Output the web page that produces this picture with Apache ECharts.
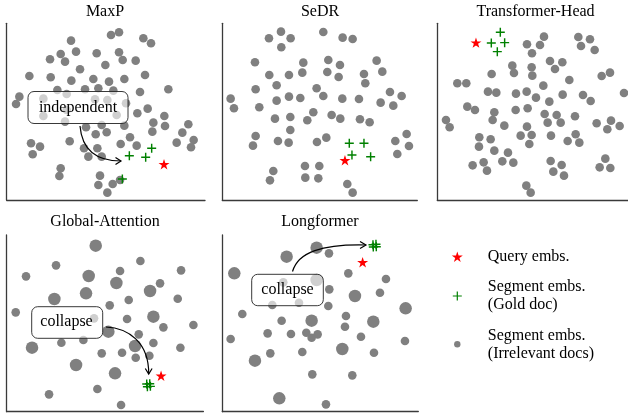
<!DOCTYPE html>
<html>
<head>
<meta charset="utf-8">
<script src="https://cdn.jsdelivr.net/npm/echarts@6/dist/echarts.min.js"></script>
<style>
html,body{margin:0;padding:0;background:#fff;}
#chart{width:628px;height:413px;}
</style>
</head>
<body>
<div id="chart"></div>
<script>
// ---- Data (t-SNE style embedding coordinates, arbitrary units; y grows downward) ----
const panelTitles = ['MaxP', 'SeDR', 'Transformer-Head', 'Global-Attention', 'Longformer'];
const legendNames = ['Query embs.', 'Segment embs.\n(Gold doc)', 'Segment embs.\n(Irrelevant docs)'];

const maxpIrrelevant = [[333,105],[357,97],[213,122],[430,115],[453,130],
  [150,178],[182,162],[228,155],[195,185],[290,160],[357,157],[368,180],[407,182],[316,195],[240,208],
  [88,228],[152,232],[214,242],[280,237],[327,245],[373,237],[435,225],
  [172,270],[255,268],[295,265],[340,272],[420,276],[505,268],[58,290],[48,312],
  [130,296],[130,348],[200,282],[285,298],[322,300],[350,345],[200,330],[378,310],
  [412,340],[443,326],[493,348],[495,378],[460,368],[457,395],[373,377],[305,375],[258,382],[195,365],
  [547,398],[565,373],[581,420],[573,442],[530,428],
  [93,430],[120,440],[98,463],[209,424],[287,403],[320,397],[390,412],[362,432],[410,437],[252,445],[292,445],[265,470],[305,470],
  [182,505],[178,528],[300,527],[295,555],[338,552],[360,540],[322,578]];
const maxpGold = [[388,467],[437,472],[455,445],[367,537]];
const maxpQuery = [[492,493]];

const sedrIrrelevant = [[213,95],[177,115],[242,115],[214,142],[340,96],[398,113],[428,117],
  [135,187],[280,188],[355,180],[390,195],[500,182],[517,215],[277,218],[352,216],[386,231],[462,222],[466,250],[178,225],[237,225],
  [137,268],[200,256],[320,265],[62,296],[72,325],[148,322],[200,302],[237,290],[271,294],[340,288],[397,296],[447,297],[540,276],[575,288],[512,308],[550,317],
  [195,356],[241,351],[292,361],[310,337],[365,345],[391,356],[450,358],[479,367],[241,390],
  [137,408],[129,437],[204,423],[236,428],[321,426],[349,413],[556,423],[590,402],[597,438],[562,462],
  [190,513],[180,541],[285,498],[328,498],[286,533],[325,535],[412,552],[428,578]];
const sedrGold = [[418,430],[462,430],[426,465],[482,470]];
const sedrQuery = [[405,481]];

const headIrrelevant = [[357,110],[306,133],[345,135],[321,160],[460,111],[495,118],[468,138],[509,150],
  [375,183],[390,207],[412,187],[262,197],[267,219],[320,202],[322,227],[200,222],[530,228],[555,218],[433,240],[97,250],[124,250],[355,257],
  [189,275],[214,278],[273,281],[305,275],[333,293],[373,305],[413,284],[474,285],[497,303],[597,279],
  [127,320],[150,330],[208,337],[272,330],[308,325],[359,342],[395,345],[450,349],[203,360],[238,377],[368,368],[407,368],[306,380],[515,370],[558,362],[547,388],[584,378],
  [63,360],[74,382],
  [163,412],[197,418],[162,440],[208,452],[249,458],[287,407],[320,405],[313,432],[378,407],[428,423],[452,403],[463,428],
  [143,496],[176,487],[186,512],[232,484],[265,488],[377,483],[410,495],[385,515],[417,527],[541,476],[524,502],[556,504],
  [304,557],[317,578]];
const headGold = [[226,97],[199,129],[239,128],[217,155]];
const headQuery = [[153,128]];

const globalIrrelevant = [[168,181],[78,214],[421,168],[360,198],[543,196],[480,235],[386,285],[533,281],[329,301],[47,322],
  [381,342],[490,367],[580,360],[416,388],[282,340],[184,413],[250,405],[460,414],[305,445],[366,443],[407,458],[448,452],[541,428],
  [147,568],[292,552],[363,600]];
const globalCollapsed = [[287,122],[266,213],[349,234],[258,265],[450,258],[163,282],[460,335],[325,380],[96,428],[405,423],[228,480],[345,505]];
const globalGold = [[440,537],[449,536],[442,545],[451,544]];
const globalQuery = [[483,512]];

const longIrrelevant = [[342,145],[400,205],[513,222],[343,253],[495,263],[340,303],[82,327],[200,347],[393,333],[390,365],
  [158,385],[228,387],[274,383],[290,398],[308,388],[438,395],[47,402],[570,408],[166,445],[262,441],[477,443],
  [292,508],[412,511],[333,598],[205,232],[172,300],[252,293]];
const longCollapsed = [[305,128],[215,155],[58,205],[420,273],[572,310],[290,347],[475,350],[382,432],[120,467],[193,580],[305,225]];
const longGold = [[474,119],[483,118],[475,126],[484,125]];
const longQuery = [[443,172]];

// ---- Layout / style ----
const FONT = "'Liberation Serif', 'DejaVu Serif', serif";
const GRAY = '#808080', GREEN = '#008000', RED = '#ff0000';
const STAR = 'path://M50,0L61.23,34.55L97.55,34.55L68.16,55.9L79.39,90.45L50,69.1L20.61,90.45L31.84,55.9L2.45,34.55L38.77,34.55Z';
const PLUS = 'path://M4.2,0H5.8V4.2H10V5.8H5.8V10H4.2V5.8H0V4.2H4.2Z';
const PLUS_LEGEND = 'path://M0,0M11,11M4.9,1H6.1V4.9H10V6.1H6.1V10H4.9V6.1H1V4.9H4.9Z';
const DOT_LEGEND = 'path://M0,0M11,11M8.7,5.5A3.2,3.2,0,1,1,2.3,5.5A3.2,3.2,0,1,1,8.7,5.5Z';

const panels = [
  {grid:{left:6.7, top:23.3, width:198.3, height:176.7}, x:[20,615], y:[70,600], irr:maxpIrrelevant, gold:maxpGold, query:maxpQuery},
  {grid:{left:222.3, top:23.3, width:195, height:176.7}, x:[37,622], y:[70,600], irr:sedrIrrelevant, gold:sedrGold, query:sedrQuery},
  {grid:{left:437.3, top:23.3, width:191, height:176.7}, x:[37,609], y:[70,600], irr:headIrrelevant, gold:headGold, query:headQuery},
  {grid:{left:6.7, top:235, width:196.7, height:176.7}, x:[20,610], y:[90,620], irr:globalIrrelevant, blob:globalCollapsed, gold:globalGold, query:globalQuery},
  {grid:{left:222.3, top:235, width:196, height:176.7}, x:[22,610], y:[90,620], irr:longIrrelevant, blob:longCollapsed, gold:longGold, query:longQuery}
];
const titlePos = [[105,11.5],[320,11.5],[535.5,11.5],[105,222],[320,222]];

const grids = [], xAxes = [], yAxes = [], series = [];
const axisLine = {show:true, onZero:false, lineStyle:{color:'#3a3a3a', width:1.3}};
panels.forEach((p, i) => {
  grids.push(Object.assign({containLabel:false}, p.grid));
  xAxes.push({type:'value', gridIndex:i, min:p.x[0], max:p.x[1], position:'bottom',
    axisLine, axisTick:{show:false}, axisLabel:{show:false}, splitLine:{show:false}});
  yAxes.push({type:'value', gridIndex:i, min:p.y[0], max:p.y[1], inverse:true, position:'left',
    axisLine, axisTick:{show:false}, axisLabel:{show:false}, splitLine:{show:false}});
  series.push({type:'scatter', name:legendNames[2], xAxisIndex:i, yAxisIndex:i, data:p.irr,
    symbol:'circle', symbolSize:8.6, itemStyle:{color:GRAY, opacity:1}, clip:false, z:2});
  if (p.blob) series.push({type:'scatter', name:legendNames[2], xAxisIndex:i, yAxisIndex:i, data:p.blob,
    symbol:'circle', symbolSize:12.5, itemStyle:{color:GRAY, opacity:1}, clip:false, z:2});
  series.push({type:'scatter', name:legendNames[1], xAxisIndex:i, yAxisIndex:i, data:p.gold,
    symbol:PLUS, symbolSize:9, itemStyle:{color:GREEN, opacity:1}, clip:false, z:3});
  series.push({type:'scatter', name:legendNames[0], xAxisIndex:i, yAxisIndex:i, data:p.query,
    symbol:STAR, symbolSize:11, symbolKeepAspect:true, itemStyle:{color:RED, opacity:1}, clip:false, z:4});
});

const graphics = [];
function txt(x, y, t, z) {
  return {type:'text', x, y, z,
    style:{text:t, fontFamily:FONT, fontSize:16, fontWeight:'normal', fill:'#000', align:'center', verticalAlign:'middle',
      textAlign:'center', textVerticalAlign:'middle'}};
}
panelTitles.forEach((t, i) => graphics.push(txt(titlePos[i][0], titlePos[i][1], t, 100)));
function box(x, y, w, h, label, cx, cy) {
  graphics.push({type:'rect', z:100, shape:{x, y, width:w, height:h, r:6},
    style:{fill:'rgba(255,255,255,0.62)', stroke:'#222', lineWidth:0.9}});
  graphics.push(txt(cx, cy, label, 101));
}
function arrow(x1, y1, c1x, c1y, c2x, c2y, x2, y2, head) {
  graphics.push({type:'bezierCurve', z:100, shape:{x1, y1, cpx1:c1x, cpy1:c1y, cpx2:c2x, cpy2:c2y, x2, y2},
    style:{stroke:'#000', lineWidth:1.2, fill:null}});
  graphics.push({type:'polyline', z:100, shape:{points:head}, style:{stroke:'#000', lineWidth:1.2, fill:null}});
}
box(28, 91.5, 100, 32, 'independent', 78, 107.5);
arrow(80, 126, 82, 150, 97, 161, 121, 161, [[115.5,157.5],[121,161],[115.5,164.5]]);
box(31.7, 306.7, 71, 31.6, 'collapse', 66.5, 322);
arrow(106, 327, 128, 328, 149, 342, 148.7, 374, [[145.3,368.5],[148.7,374],[152.1,368.5]]);
box(251.7, 274.3, 71.6, 31.4, 'collapse', 287.5, 290);
arrow(292.5, 271.5, 298, 252, 322, 244, 366, 245, [[360,241.5],[366,245],[360,248.5]]);

const chart = echarts.init(document.getElementById('chart'), null, {renderer:'canvas'});
chart.setOption({
  animation:false,
  backgroundColor:'#fff',
  grid:grids, xAxis:xAxes, yAxis:yAxes, series,
  legend:{
    orient:'vertical', left:451.8, top:247.7, padding:0, itemGap:12.3,
    itemWidth:11, itemHeight:11, selectedMode:false,
    data:[
      {name:legendNames[0], icon:STAR, itemStyle:{color:RED}},
      {name:legendNames[1], icon:PLUS_LEGEND, itemStyle:{color:GREEN}},
      {name:legendNames[2], icon:DOT_LEGEND, itemStyle:{color:GRAY}}
    ],
    textStyle:{fontFamily:FONT, fontSize:16, lineHeight:18, color:'#000', padding:[0,0,0,20]}
  },
  graphic:graphics
});
</script>
</body>
</html>
